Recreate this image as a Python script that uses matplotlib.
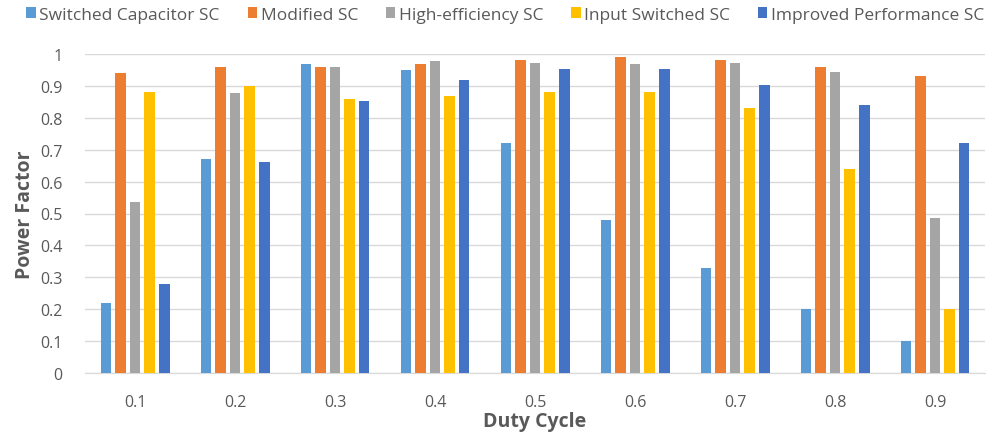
import numpy as np
import matplotlib
matplotlib.use('Agg')
from matplotlib import pyplot as plt

# Power factor per topology over the duty cycle sweep
duty_cycles = ['0.1', '0.2', '0.3', '0.4', '0.5', '0.6', '0.7', '0.8', '0.9']
series_names = ['Switched Capacitor SC', 'Modified SC', 'High-efficiency SC',
                'Input Switched SC', 'Improved Performance SC']
switched_cap = [0.22, 0.67, 0.97, 0.95, 0.72, 0.48, 0.33, 0.20, 0.10]
modified = [0.94, 0.96, 0.96, 0.97, 0.98, 0.99, 0.98, 0.96, 0.93]
high_eff = [0.535, 0.877, 0.96, 0.977, 0.973, 0.969, 0.973, 0.944, 0.485]
input_switched = [0.88, 0.90, 0.86, 0.868, 0.88, 0.88, 0.832, 0.64, 0.20]
improved = [0.278, 0.661, 0.853, 0.919, 0.952, 0.952, 0.902, 0.839, 0.72]

colors = ['#5B9BD5', '#ED7D31', '#A5A5A5', '#FFC000', '#4472C4']
text_color = '#595959'

plt.rcParams['font.family'] = ['Open Sans', 'DejaVu Sans']

fig = plt.figure(figsize=(9.9, 4.39), dpi=100)
ax = fig.add_axes([85 / 990, 1 - 374 / 439, 900 / 990, (374 - 55) / 439])

x = np.arange(len(duty_cycles))
slot = 0.146
width = 0.106
all_series = [switched_cap, modified, high_eff, input_switched, improved]
for i, (vals, name, c) in enumerate(zip(all_series, series_names, colors)):
    offset = (i - 2) * slot
    ax.bar(x + offset, vals, width=width, color=c, label=name, zorder=3)

ax.set_xlim(-0.5, len(duty_cycles) - 0.5)
ax.set_ylim(0, 1.0)
ax.set_yticks(np.arange(0, 1.01, 0.1))
ax.set_yticklabels(['0'] + [f'{v:.1f}' for v in np.arange(0.1, 0.95, 0.1)] + ['1'])
ax.set_xticks(x)
ax.set_xticklabels(duty_cycles)
ax.yaxis.grid(True, color='#D9D9D9', linewidth=1, zorder=0)
ax.set_axisbelow(True)

for side in ['top', 'right', 'left']:
    ax.spines[side].set_visible(False)
ax.spines['bottom'].set_color('#D9D9D9')
ax.tick_params(axis='both', length=0, labelsize=11.5, colors=text_color)
ax.tick_params(axis='x', pad=15)
ax.tick_params(axis='y', pad=16)

ax.set_xlabel('Duty Cycle', fontsize=14, fontweight='bold', color=text_color, labelpad=1)
ax.set_ylabel('Power Factor', fontsize=14, fontweight='bold', color=text_color, labelpad=4)

ax.legend(loc='upper center', bbox_to_anchor=(0.467, 1.17), ncol=5, frameon=False,
          fontsize=12.5, handlelength=0.55, handleheight=0.55, handletextpad=0.2,
          columnspacing=1.6, labelcolor=text_color, borderaxespad=0)

fig.savefig('out.png', dpi=100, facecolor='white')
